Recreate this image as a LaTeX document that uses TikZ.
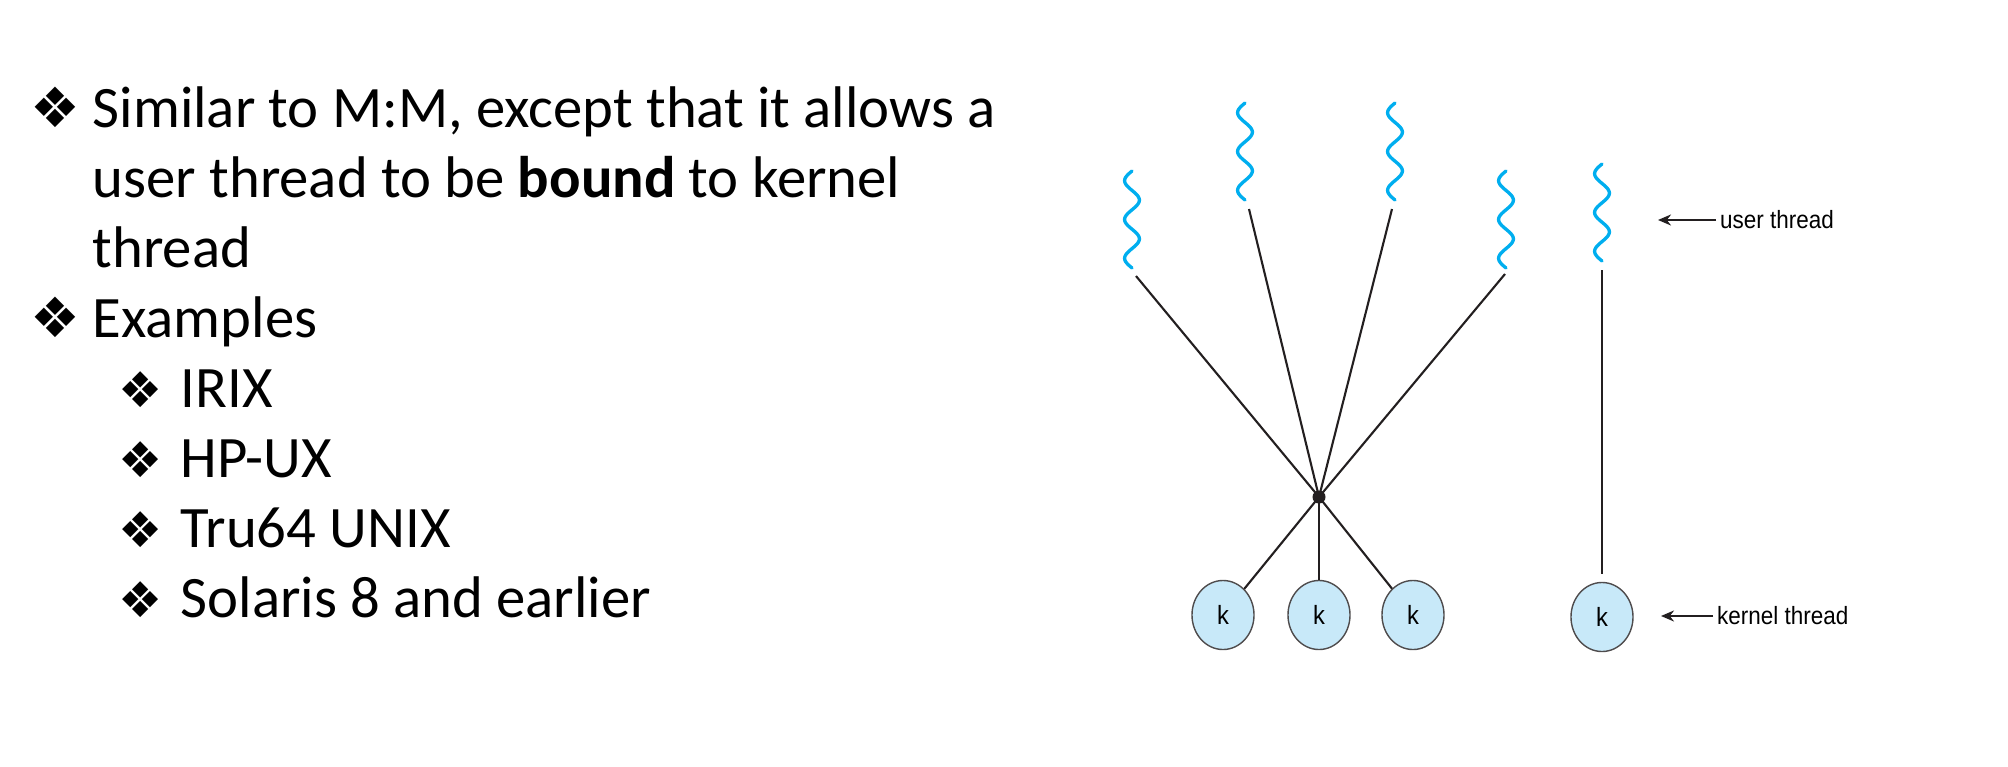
\documentclass[tikz,border=0pt]{standalone}
\usepackage{fontspec}
\setmainfont{Carlito}
\newfontfamily\dingfont{DejaVu Sans}
\newfontfamily\figfont[FakeStretch=0.9]{Liberation Sans}
\usetikzlibrary{arrows.meta, shapes.geometric}

\definecolor{threadcolor}{RGB}{0, 174, 239}
\definecolor{kernelcolor}{RGB}{200, 233, 249}
\definecolor{edgecolor}{RGB}{35, 31, 32}

\begin{document}
\begin{tikzpicture}[
    x=0.01cm, y=-0.01cm,
    bullettext/.style={anchor=base west, inner sep=0pt, font=\fontsize{16.7}{20}\selectfont},
    bulletmark/.style={anchor=base west, inner sep=0pt, font=\dingfont\fontsize{15.8}{18}\selectfont},
    subbullet/.style={bulletmark, font=\dingfont\fontsize{14}{16}\selectfont},
    kthread/.style={ellipse, draw=edgecolor!80, line width=0.4pt, fill=kernelcolor, minimum width=0.62cm, minimum height=0.69cm, inner sep=0pt, font=\figfont\fontsize{7.5}{8}\selectfont},
    link/.style={draw=edgecolor, line width=0.6pt},
    uthread/.style={threadcolor, line width=0.95pt, line cap=round},
    callout/.style={-{Stealth[length=1.3mm, width=1.1mm]}, line width=0.65pt, edgecolor},
    labeltext/.style={anchor=west, inner sep=1pt, font=\figfont\fontsize{7.1}{8}\selectfont},
]
\useasboundingbox (0,0) rectangle (2008,766);

% ============ BULLET TEXT ============
\node[bulletmark] (b1) at (30,127) {❖};
\node[bullettext] (t1a) at (92,127) {Similar to M:M, except that it allows a};
\node[bullettext] (t1b) at (92,197) {user thread to be \textbf{bound} to kernel};
\node[bullettext] (t1c) at (92,267) {thread};
\node[bulletmark] (b2) at (30,337) {❖};
\node[bullettext] (t2) at (92,337) {Examples};
\foreach \name/\ypos/\txt in {irix/407/IRIX, hpux/477/HP-UX, tru/547/Tru64 UNIX, sol/617/Solaris 8 and earlier} {
    \node[subbullet] (b-\name) at (118,\ypos) {❖};
    \node[bullettext] (t-\name) at (180,\ypos) {\txt};
}

% ============ USER THREADS ============
\foreach \cx/\top in {1132/171, 1245/103, 1395/103, 1506/171, 1602/164} {
    \draw[uthread] plot[variable=\t, domain=0:97, samples=90, smooth] ({\cx - 7.4*sin(\t*9.28)}, {\top + \t});
}
\coordinate (u1) at (1136,276);
\coordinate (u2) at (1249,209);
\coordinate (u3) at (1392,209);
\coordinate (u4) at (1505,274);
\coordinate (u5) at (1602,270);

% ============ KERNEL THREADS ============
\node[circle, fill=edgecolor, inner sep=0pt, minimum size=0.13cm] (hub) at (1319,497) {};
\node[kthread] (k1) at (1223,615) {k};
\node[kthread] (k2) at (1319,615) {k};
\node[kthread] (k3) at (1413,615) {k};
\node[kthread] (k4) at (1602,617) {k};

% ============ CONNECTIONS ============
\draw[link] (u1) -- (hub.center);
\draw[link] (u2) -- (hub.center);
\draw[link] (u3) -- (hub.center);
\draw[link] (u4) -- (hub.center);
\draw[link] (hub.center) -- (k1);
\draw[link] (hub.center) -- (k2);
\draw[link] (hub.center) -- (k3);
\draw[link, shorten >=0.08cm] (u5) -- (k4);

% ============ LABELS ============
\node[labeltext] (ulabel) at (1716,220) {user thread};
\coordinate (utip) at (1658,220);
\draw[callout] (ulabel) -- (utip);
\node[labeltext] (klabel) at (1713,616) {kernel thread};
\coordinate (ktip) at (1661,616);
\draw[callout] (klabel) -- (ktip);

\end{tikzpicture}
\end{document}
